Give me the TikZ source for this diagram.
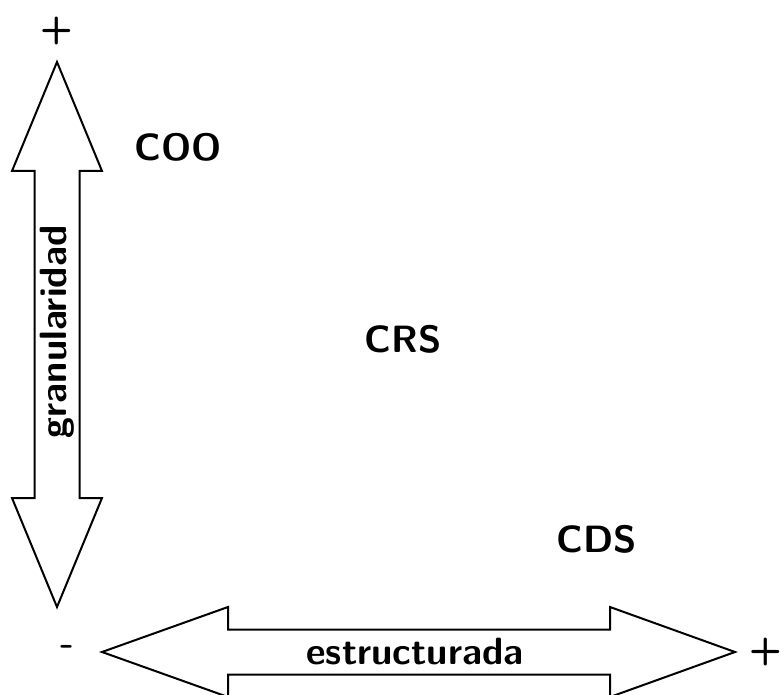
\documentclass[tikz,border=0pt]{standalone}
\usepackage{fontspec}
\begin{document}
\begin{tikzpicture}[x=1pt,y=-1pt,
  arrowbody/.style={draw=black,line width=2pt,fill=white,line join=miter},
  lbl/.style={font=\fontsize{38}{40}\selectfont\sffamily\bfseries,inner sep=0pt},
  sgn/.style={font=\fontsize{38}{40}\selectfont\sffamily\bfseries,inner sep=0pt}]
\useasboundingbox (0,0) rectangle (781,695);
% vertical double arrow
\draw[arrowbody] (57,62) -- (102,171) -- (79.5,171) -- (79.5,498) -- (102,498)
  -- (57,607) -- (12,498) -- (34.5,498) -- (34.5,171) -- (12,171) -- cycle;
% horizontal double arrow
\draw[arrowbody] (102,652) -- (228,607) -- (228,629.5) -- (610,629.5) -- (610,607)
  -- (735,652) -- (610,697) -- (610,674.5) -- (228,674.5) -- (228,697) -- cycle;
\node[lbl,rotate=90] (gran) at (57,332) {granularidad};
\node[lbl] (estr) at (415,652) {estructurada};
\node[lbl] (coo) at (178,147) {COO};
\node[lbl] (crs) at (403,339) {CRS};
\node[lbl] (cds) at (597,539) {CDS};
\node[sgn] (vplus) at (57,31) {+};
\node[sgn] (hminus) at (67,650) {-};
\node[sgn] (hplus) at (766,652) {+};
\end{tikzpicture}
\end{document}
